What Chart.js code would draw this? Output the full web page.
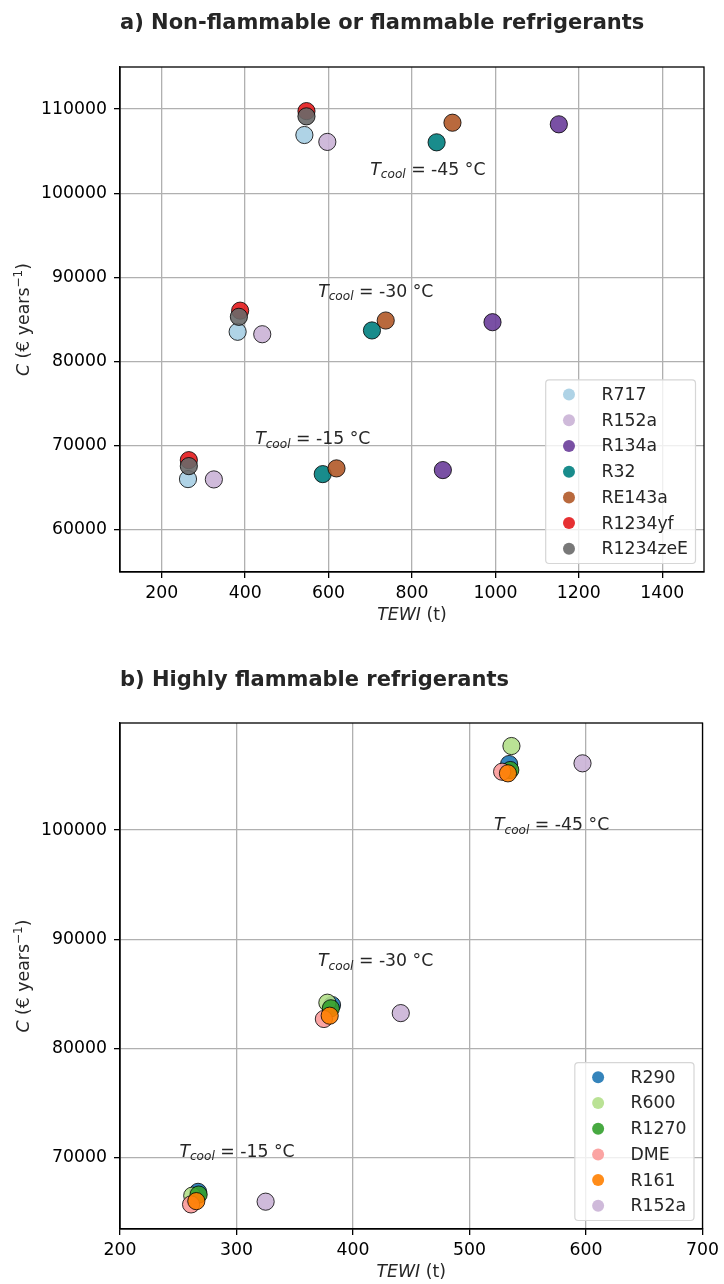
<!DOCTYPE html>
<html>
<head>
<meta charset="utf-8">
<script src="https://cdn.jsdelivr.net/npm/chart.js@4.4.0/dist/chart.umd.min.js"></script>
<style>
  body { margin:0; background:#fff; }
  .wrap { position:relative; width:724px; height:642px; }
</style>
</head>
<body>
<div class="wrap"><canvas id="chartA"></canvas></div>
<div class="wrap"><canvas id="chartB"></canvas></div>
<script>
// ---- panel a) : points at Tcool = -15, -30, -45 °C
const refsA = ['R717','R152a','R134a','R32','RE143a','R1234yf','R1234zeE'];
const tewiA = [
  [263, 382, 542],
  [325, 441, 597],
  [874, 993, 1152],
  [586, 704, 859],
  [619, 737, 897],
  [265, 388, 547],
  [265, 385, 547]
];
const costA = [
  [66040, 83540, 106920],
  [66000, 83250, 106100],
  [67110, 84680, 108190],
  [66630, 83700, 106050],
  [67310, 84880, 108380],
  [68290, 86050, 109760],
  [67580, 85320, 109135]
];
const xTicksA = [200, 400, 600, 800, 1000, 1200, 1400];
const yTicksA = [60000, 70000, 80000, 90000, 100000, 110000];
const noteTempA = ['-15', '-30', '-45'];
const noteXA = [424, 575, 700];
const noteYA = [70200, 87700, 102200];

// ---- panel b)
const refsB = ['R290','R600','R1270','DME','R161','R152a'];
const tewiB = [
  [267, 382, 534],
  [262, 378, 536],
  [267.5, 381, 535],
  [261, 375, 528],
  [265.5, 380, 533],
  [325, 441, 597]
];
const costB = [
  [66900, 83993, 106037],
  [66550, 84204, 107683],
  [66650, 83691, 105488],
  [65750, 82712, 105332],
  [66050, 83014, 105186],
  [66000, 83250, 106100]
];
const xTicksB = [200, 300, 400, 500, 600, 700];
const yTicksB = [70000, 80000, 90000, 100000];
const noteTempB = ['-15', '-30', '-45'];
const noteXB = [251, 370, 521];
const noteYB = [70120, 87560, 100000];

const colorsA = ['166,206,227','202,178,214','106,61,154','0,128,128','177,89,40','227,26,28','105,105,105'];
const colorsB = ['31,119,180','178,223,138','51,160,44','251,154,153','255,127,0','202,178,214'];

const FS = 17.3;
Chart.defaults.font.family = '"DejaVu Sans", sans-serif';
Chart.defaults.font.size = FS;
Chart.defaults.color = '#262626';

const FONT = '"DejaVu Sans"';

function richText(ctx, parts, x, y, align) {
  let w = 0;
  parts.forEach(p => { ctx.font = p.f; w += ctx.measureText(p.t).width; });
  let cx = align === 'center' ? x - w / 2 : x;
  parts.forEach(p => {
    ctx.font = p.f;
    ctx.fillText(p.t, cx, y + (p.dy || 0));
    cx += ctx.measureText(p.t).width;
  });
}

function decor(opt) {
  return {
    id: 'decor',
    afterDraw(chart) {
      const { ctx, chartArea: a, scales: { x, y } } = chart;
      const big = FS + 'px ' + FONT, ital = 'italic ' + FS + 'px ' + FONT;
      const small = (FS * 0.7).toFixed(1) + 'px ' + FONT;
      ctx.save();
      ctx.strokeStyle = '#000';
      ctx.lineWidth = 1.3;
      ctx.strokeRect(a.left, a.top, a.right - a.left, a.bottom - a.top);

      ctx.fillStyle = '#262626';
      ctx.textAlign = 'left';
      ctx.textBaseline = 'alphabetic';
      ctx.font = 'bold 21px ' + FONT;
      ctx.fillText(opt.title, a.left, opt.titleY);

      // axis titles
      richText(ctx, [
        { t: 'TEWI', f: ital },
        { t: ' (t)', f: big }
      ], (a.left + a.right) / 2, a.bottom + 48, 'center');

      ctx.save();
      ctx.translate(29, (a.top + a.bottom) / 2);
      ctx.rotate(-Math.PI / 2);
      richText(ctx, [
        { t: 'C', f: ital },
        { t: ' (\u20ac years', f: big },
        { t: '\u22121', f: small, dy: -6.8 },
        { t: ')', f: big }
      ], 0, 0, 'center');
      ctx.restore();

      // Tcool notes
      opt.temps.forEach((t, i) => {
        richText(ctx, [
          { t: 'T', f: ital },
          { t: 'cool', f: 'italic ' + small, dy: 3.7 },
          { t: ' = ' + t + ' \u00b0C', f: big }
        ], x.getPixelForValue(opt.nx[i]), y.getPixelForValue(opt.ny[i]), 'left');
      });

      // legend
      ctx.font = big;
      const tw = Math.max(...opt.names.map(n => ctx.measureText(n).width));
      const w = 55.7 + tw + 7.5;
      const h = 29.4 + (opt.names.length - 1) * 25.7;
      const lx = a.right - 8.5 - w, ly = a.bottom - 8.5 - h;
      ctx.beginPath();
      ctx.roundRect(lx, ly, w, h, 3.5);
      ctx.fillStyle = 'rgba(255,255,255,0.8)';
      ctx.fill();
      ctx.strokeStyle = '#d6d6d6';
      ctx.lineWidth = 1.2;
      ctx.stroke();
      ctx.textBaseline = 'middle';
      opt.names.forEach((n, i) => {
        const cy = ly + 14.7 + i * 25.7;
        ctx.beginPath();
        ctx.arc(lx + 23.3, cy, 6, 0, Math.PI * 2);
        ctx.fillStyle = 'rgba(' + opt.colors[i] + ',0.9)';
        ctx.fill();
        ctx.fillStyle = '#262626';
        ctx.fillText(n, lx + 55.7, cy + 1);
      });
      ctx.restore();
    }
  };
}

function makeDatasets(names, tewi, cost, colors) {
  return names.map((n, i) => ({
    label: n,
    data: tewi[i].map((v, j) => ({ x: v, y: cost[i][j] })),
    backgroundColor: 'rgba(' + colors[i] + ',0.9)',
    borderColor: '#000',
    borderWidth: 0.8,
    pointRadius: 8.6,
    pointHoverRadius: 8.6,
    order: names.length - i
  }));
}

function axes(xr, yr, xt, yt, xh) {
  const grid = { color: '#b0b0b0', lineWidth: 1.3, tickColor: '#000', tickLength: 6, tickWidth: 1.3 };
  return {
    x: {
      type: 'linear', min: xr[0], max: xr[1],
      grid: grid, border: { color: '#000', width: 1.3 },
      ticks: { color: '#000', padding: 5, maxRotation: 0, callback: v => String(v) },
      afterBuildTicks: s => { s.ticks = xt.map(v => ({ value: v })); },
      afterFit: s => { s.height = xh; }
    },
    y: {
      type: 'linear', min: yr[0], max: yr[1],
      grid: grid, border: { color: '#000', width: 1.3 },
      ticks: { color: '#000', padding: 7, callback: v => String(v) },
      afterBuildTicks: s => { s.ticks = yt.map(v => ({ value: v })); },
      afterFit: s => { s.width = 120; }
    }
  };
}

new Chart(document.getElementById('chartA'), {
  type: 'scatter',
  data: { datasets: makeDatasets(refsA, tewiA, costA, colorsA) },
  options: {
    responsive: true, maintainAspectRatio: false, animation: false,
    layout: { padding: { top: 67, right: 20, left: 0, bottom: 0 } },
    plugins: { legend: { display: false }, tooltip: { enabled: false } },
    scales: axes([100, 1500], [55000, 115000], xTicksA, yTicksA, 70)
  },
  plugins: [decor({
    title: 'a) Non-flammable or flammable refrigerants', titleY: 29,
    names: refsA, colors: colorsA, temps: noteTempA, nx: noteXA, ny: noteYA
  })]
});

new Chart(document.getElementById('chartB'), {
  type: 'scatter',
  data: { datasets: makeDatasets(refsB, tewiB, costB, colorsB) },
  options: {
    responsive: true, maintainAspectRatio: false, animation: false,
    layout: { padding: { top: 81, right: 20, left: 0, bottom: 0 } },
    plugins: { legend: { display: false }, tooltip: { enabled: false } },
    scales: axes([200, 700], [63500, 109790], xTicksB, yTicksB, 55)
  },
  plugins: [decor({
    title: 'b) Highly flammable refrigerants', titleY: 44,
    names: refsB, colors: colorsB, temps: noteTempB, nx: noteXB, ny: noteYB
  })]
});
</script>
</body>
</html>
